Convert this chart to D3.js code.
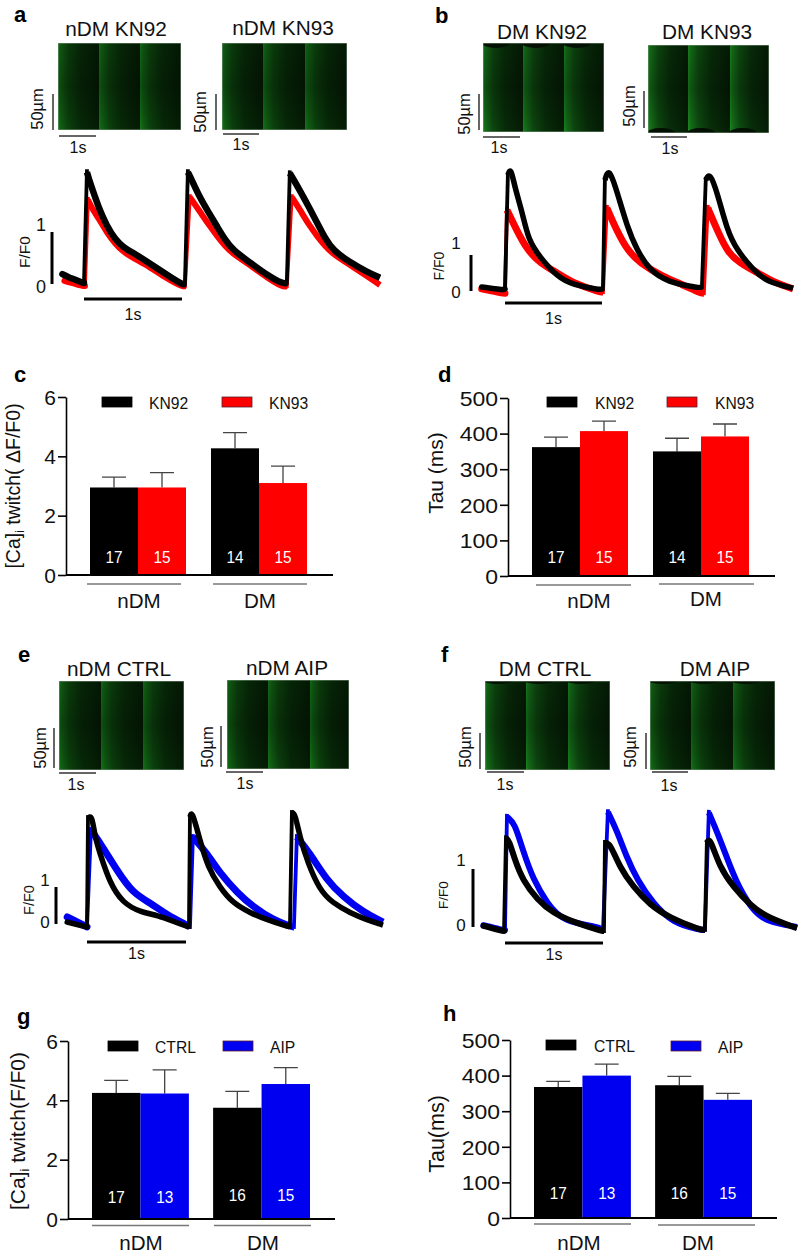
<!DOCTYPE html>
<html><head><meta charset="utf-8">
<style>html,body{margin:0;padding:0;background:#fff}svg{display:block}text{font-family:"Liberation Sans",Arial,sans-serif;fill:#111}</style>
<script src="https://cdn.jsdelivr.net/npm/d3@7"></script></head><body>
<script>
const groups = ["nDM","DM"];
const kn = ["KN92","KN93"], ctl = ["CTRL","AIP"];
const cMean=[2.95,2.95,4.27,3.1], cTop=[3.3,3.45,4.8,3.67], cN=[17,15,14,15];
const dMean=[362,407,350,392], dTop=[390,435,387,427], dN=[17,15,14,15];
const gMean=[4.25,4.23,3.75,4.55], gTop=[4.67,5.03,4.3,5.1], gN=[17,13,16,15];
const hMean=[368,400,373,332], hTop=[384,432,398,350], hN=[17,13,16,15];
const ticksRatio=[0,2,4,6], ticksTau=[0,100,200,300,400,500];

const aBlack=[[-.22,.19],[-.16,.13],[-.08,.08],[-.01,.02],[0,.02],[.03,2.15],[.06,1.96],[.11,1.69],[.16,1.42],[.23,1.13],[.32,.85],[.40,.71],[.50,.60],[.67,.40],[.85,.17],[1.01,-.02],[1.03,0],[1.06,2.15],[1.10,2.0],[1.18,1.67],[1.27,1.38],[1.36,1.10],[1.44,.85],[1.52,.65],[1.69,.42],[1.87,.17],[2.03,0],[2.07,.02],[2.10,2.13],[2.20,1.81],[2.29,1.5],[2.38,1.17],[2.46,.88],[2.54,.65],[2.71,.42],[2.89,.23],[3.02,.12]];
const aRed=[[-.2,.06],[-.12,.02],[-.01,-.04],[.01,-.04],[.04,1.62],[.08,1.46],[.16,1.23],[.23,1.0],[.32,.77],[.40,.62],[.5,.5],[.67,.33],[.85,.1],[1.01,-.06],[1.03,-.04],[1.08,1.67],[1.18,1.40],[1.27,1.15],[1.36,.92],[1.44,.73],[1.52,.58],[1.69,.37],[1.87,.12],[2.03,-.06],[2.07,-.04],[2.12,1.67],[2.2,1.44],[2.29,1.15],[2.38,.92],[2.46,.73],[2.54,.58],[2.71,.37],[2.89,.15],[3.02,-.02]];
const bBlack=[[-.24,.11],[-.10,.06],[-.02,.03],[0,.06],[.03,3.22],[.06,3.44],[.10,2.89],[.18,2.17],[.24,1.42],[.36,.94],[.54,.39],[.70,.17],[.98,.03],[1.01,.06],[1.03,3.08],[1.07,3.44],[1.15,2.81],[1.26,1.78],[1.36,1.14],[1.49,.58],[1.67,.25],[2.01,.08],[2.03,.11],[2.07,3.08],[2.11,3.31],[2.19,2.72],[2.29,1.69],[2.39,1.14],[2.56,.58],[2.70,.25],[2.97,.08]];
const bRed=[[-.24,.06],[-.02,-.06],[0,-.06],[.02,2.25],[.12,1.69],[.23,1.14],[.36,.78],[.54,.5],[.70,.22],[.98,-.03],[1.01,-.03],[1.05,2.31],[1.15,1.69],[1.26,1.14],[1.39,.78],[1.63,.39],[1.84,.17],[2.01,-.06],[2.05,-.06],[2.09,2.31],[2.20,1.61],[2.30,1.06],[2.42,.78],[2.56,.58],[2.76,.25],[2.97,.06]];
const eBlack=[[-.20,.05],[0,-.08],[.01,2.86],[.05,2.95],[.08,2.35],[.13,1.92],[.23,1.11],[.36,.57],[.54,.32],[.71,.24],[.91,.03],[1.03,-.08],[1.04,2.89],[1.06,3.08],[1.14,2.27],[1.22,1.54],[1.34,1.0],[1.47,.57],[1.65,.30],[1.82,.11],[2.05,-.08],[2.07,3.0],[2.10,3.0],[2.15,2.35],[2.23,1.65],[2.35,.92],[2.48,.57],[2.66,.30],[2.83,.11],[2.99,-.03]];
const eBlue=[[-.20,.19],[0,-.08],[.04,2.54],[.16,2.08],[.30,1.46],[.46,.84],[.64,.57],[.81,.24],[1.01,-.03],[1.04,-.08],[1.07,2.35],[1.21,1.92],[1.34,1.38],[1.52,.84],[1.68,.46],[1.88,.11],[2.07,-.08],[2.09,-.08],[2.12,2.35],[2.25,1.92],[2.42,1.19],[2.59,.73],[2.79,.32],[2.99,.05]];
const fBlack=[[-.22,.02],[-.03,-.07],[-.01,-.07],[.01,1.53],[.04,1.50],[.10,1.16],[.18,.81],[.33,.47],[.49,.24],[.69,.09],[.99,-.07],[1.01,-.07],[1.02,1.45],[1.07,1.45],[1.17,1.03],[1.31,.69],[1.48,.38],[1.68,.16],[1.99,-.05],[2.04,-.05],[2.06,1.45],[2.09,1.55],[2.19,1.03],[2.33,.69],[2.50,.38],[2.67,.17],[2.98,-.02]];
const fBlue=[[-.22,.03],[-.03,-.05],[0,-.05],[.02,1.90],[.10,1.79],[.18,1.33],[.29,.81],[.43,.41],[.59,.09],[.97,0],[1.0,-.05],[1.05,1.98],[1.14,1.67],[1.24,1.21],[1.35,.81],[1.51,.41],[1.71,.07],[1.99,-.05],[2.04,-.05],[2.08,1.97],[2.17,1.62],[2.30,1.03],[2.40,.64],[2.53,.29],[2.67,.09],[2.98,0]];

const svg=d3.select("body").append("svg").attr("width",799).attr("height",1258).attr("viewBox","0 0 799 1258");
const defs=svg.append("defs");
function T(x,y,s,o={}){
  const {size=15,anchor="middle",weight="normal",rot=0,sx=1,fill="#111"}=o;
  return svg.append("text").attr("transform",`translate(${x},${y}) rotate(${rot}) scale(${sx},1)`)
   .attr("text-anchor",anchor).attr("font-size",size).attr("font-weight",weight).style("fill",fill).text(s);
}
const RED="#fe0000",BLUE="#0000f0",BLK="#000";
[["a",14,22],["b",435,23],["c",14,382],["d",438,382],["e",18,662],["f",441,662],["g",17,1024],["h",443,1021]]
 .forEach(d=>T(d[1],d[2],d[0],{size:22,weight:"bold",anchor:"start",fill:"#000"}));

// fluorescence line-scan images
let gid=0;
function scan(o){
  const {x0,x1,y0,y1,beats,peak="#16801a",arc=null,arcD=5}=o;
  const id="g"+(gid++);
  const g=defs.append("linearGradient").attr("id",id);
  [[0,.92],[.06,.72],[.25,.42],[.55,.2],[1,.06]].forEach(s=>g.append("stop").attr("offset",s[0]).attr("stop-color",peak).attr("stop-opacity",s[1]));
  const cid="c"+id;
  defs.append("clipPath").attr("id",cid).append("rect").attr("x",x0).attr("y",y0).attr("width",x1-x0).attr("height",y1-y0);
  const G=svg.append("g").attr("clip-path",`url(#${cid})`);
  G.append("rect").attr("x",x0).attr("y",y0).attr("width",x1-x0).attr("height",y1-y0).attr("fill","#031403");
  const edges=beats.concat([x1]);
  beats.forEach((b,i)=>G.append("rect").attr("x",b).attr("y",y0).attr("width",edges[i+1]-b).attr("height",y1-y0).attr("fill",`url(#${id})`));
  const v="v"+id;
  const vg=defs.append("linearGradient").attr("id",v).attr("x1",0).attr("x2",0).attr("y1",0).attr("y2",1);
  [[0,.12],[.5,.28],[.82,.12],[1,0]].forEach(s=>vg.append("stop").attr("offset",s[0]).attr("stop-color","#000").attr("stop-opacity",s[1]));
  G.append("rect").attr("x",x0).attr("y",y0).attr("width",x1-x0).attr("height",y1-y0).attr("fill",`url(#${v})`);
  if(arc) beats.forEach(b=>G.append("ellipse").attr("cx",b+13).attr("cy",arc==="top"?y0:y1).attr("rx",14).attr("ry",arcD).attr("fill","#051005"));
  G.append("rect").attr("x",x0+.25).attr("y",y0+.25).attr("width",x1-x0-.5).attr("height",y1-y0-.5).attr("fill","none").attr("stroke","#7a957a").attr("stroke-width",.5);
}
function sb(x1,y1,x2,y2){svg.append("line").attr("x1",x1).attr("y1",y1).attr("x2",x2).attr("y2",y2).attr("stroke","#333").attr("stroke-width",1.5);}
function scale(vx,vy0,vy1,hx0,hx1,hy,lx,ly,sx0,sy){sb(vx,vy0,vx,vy1);sb(hx0,hy,hx1,hy);T(lx,ly,"50µm",{size:16.5,rot:-90});T(sx0,sy,"1s",{size:16});}

const titles=[["nDM KN92",116,36],["nDM KN93",283,35],["DM KN92",542,39],["DM KN93",707,39],["nDM CTRL",119,676],["nDM AIP",287,675],["DM CTRL",545,676],["DM AIP",715,676]];
titles.forEach(t=>T(t[1],t[2],t[0],{size:20,sx:1.04}));
scan({x0:58,x1:181,y0:43,y1:130,beats:[58,99,140]});
scan({x0:222,x1:347,y0:43,y1:130,beats:[222,263,305]});
scan({x0:483,x1:604,y0:43,y1:132,beats:[483,523,564],peak:"#1a8f20",arc:"top"});
scan({x0:648,x1:769,y0:45,y1:133,beats:[648,688,730],peak:"#1c9a22",arc:"bottom"});
scan({x0:59,x1:184,y0:681,y1:770,beats:[59,101,143]});
scan({x0:227,x1:349,y0:680,y1:769,beats:[227,268,310]});
scan({x0:485,x1:610,y0:681,y1:770,beats:[485,526,568],peak:"#1a8f20",arc:"top",arcD:3});
scan({x0:650,x1:775,y0:681,y1:770,beats:[650,691,733],arc:"top",arcD:3});
scale(53,94,130,59,96,136,43,109,78,153);
scale(216,94,130,223,259,134,206,112,241,150);
scale(479,94,130,483,520,137,470,114,499,153);
scale(644,91,128,651,687,137,635,106,670,154);
scale(54,728,768,59,96,773,46,748,76,790);
scale(221,726,767,226,263,772,213,747,245,789);
scale(480,733,769,487,524,772,471,747,505,790);
scale(646,733,769,652,688,772,636,747,669,791);

// transient traces: a thin line for the whole record, a thick pen for each decay
function decays(s){
  const out=[[]];
  s.forEach((p,i)=>{out[out.length-1].push(p); if(i<s.length-1 && s[i+1][1]-p[1]>.4) out.push([]);});
  return out;
}
function trace(o){
  const x=d3.scaleLinear().domain([0,1]).range([o.x0,o.x1]);
  const y=d3.scaleLinear().domain([0,1]).range([o.y0,o.y1]);
  const line=d3.line().x(d=>x(d[0])).y(d=>y(d[1])).curve(d3.curveBasis);
  const G=svg.append("g").attr("fill","none");
  [[o.under,o.color,o.wu],[o.over,"#000",o.wo]].forEach(([s,c,w])=>{
    const pieces=decays(s);
    pieces.forEach((p,i)=>{
      G.append("path").attr("d",line(p)).attr("stroke",c).attr("stroke-width",w).attr("stroke-linecap",i?"butt":"round");
      if(i){const a=pieces[i-1].slice(-1)[0];
        G.append("line").attr("x1",x(a[0])).attr("y1",y(a[1])).attr("x2",x(p[0][0])).attr("y2",y(p[0][1])-1).attr("stroke",c).attr("stroke-width",3.8).attr("stroke-linecap","square");}
    });
  });
  svg.append("line").attr("x1",o.sbx).attr("x2",o.sbx).attr("y1",o.y0).attr("y2",o.y1).attr("stroke","#000").attr("stroke-width",3);
  svg.append("line").attr("x1",x(0)).attr("x2",x(1)).attr("y1",o.ty).attr("y2",o.ty).attr("stroke","#000").attr("stroke-width",3);
  T((x(0)+x(1))/2,o.ty+(o.sg||21),"1s",{size:16});
  T(o.ffx,o.ffy,"F/F0",{size:o.ffs,rot:-90});
  T(o.nx,o.n1,"1",{size:o.ns});T(o.nx,o.n0,"0",{size:o.ns});
}
trace({over:aBlack,under:aRed,color:RED,wo:6.5,wu:6,x0:84,x1:182,y0:284,y1:232,sbx:52,ty:299,ffx:30,ffy:252,ffs:15.5,nx:41,n1:231,n0:293,ns:18});
trace({over:bBlack,under:bRed,color:RED,wo:5.5,wu:7,x0:505,x1:602,y0:291,y1:255,sbx:471,ty:303,ffx:444,ffy:266,ffs:14,nx:456,n1:249,n0:298,ns:17});
trace({over:eBlack,under:eBlue,color:BLUE,wo:5.5,wu:7,x0:87,x1:186,y0:924,y1:887,sbx:56,ty:942,sg:17,ffx:34,ffy:900,ffs:14.5,nx:45,n1:886,n0:928,ns:17});
trace({over:fBlack,under:fBlue,color:BLUE,wo:6,wu:6,x0:505,x1:603,y0:927,y1:869,sbx:473,ty:943,sg:17,ffx:448,ffy:895,ffs:13.5,nx:461,n1:866,n0:931,ns:17});

// bar charts
function bars(o){
  const G=svg.append("g");
  const y=d3.scaleLinear().domain(o.domain).range([o.y0,o.y1]);
  const outer=d3.scaleBand().domain(groups).range([o.bx0,o.bx1]).paddingInner(o.pad).paddingOuter(0);
  const inner=d3.scaleBand().domain(o.series).range([0,outer.bandwidth()]);
  const rows=[];
  groups.forEach((g,i)=>o.series.forEach((s,j)=>{const k=i*2+j;rows.push({g,s,j,m:o.mean[k],t:o.top[k],n:o.n[k]});}));
  const x=d=>outer(d.g)+inner(d.s), w=inner.bandwidth();
  const cols=[BLK,o.color];
  G.selectAll(".eb").data(rows).enter().append("path").attr("fill","none").attr("stroke","#444").attr("stroke-width",1.3)
   .attr("d",d=>{const c=x(d)+w/2;return `M${c},${y(d.m)}V${y(d.t)}M${c-12},${y(d.t)}H${c+12}`;});
  G.selectAll(".bar").data(rows).enter().append("rect").attr("x",x).attr("width",w).attr("y",d=>y(d.m)).attr("height",d=>y(0)-y(d.m)).attr("fill",d=>cols[d.j]);
  rows.forEach((d,i)=>T(x(d)+w/2,o.ny[i],d.n,{size:16,sx:.96,fill:"#fff"}));
  const ax=d3.axisLeft(y).tickValues(o.ticks).tickSize(8).tickSizeOuter(0).tickFormat(d3.format("d"));
  const A=G.append("g").attr("transform",`translate(${o.ax},0)`).call(ax);
  A.selectAll("path,line").attr("stroke","#000").attr("stroke-width",1.6);
  A.selectAll("text").attr("font-size",o.tsize).attr("x",-10/o.tsx).attr("dy",".36em").attr("transform",`scale(${o.tsx},1)`).style("fill","#111");
  G.append("line").attr("x1",o.ax).attr("x2",o.axEnd).attr("y1",y(0)).attr("y2",y(0)).attr("stroke","#000").attr("stroke-width",1.8);
  o.under.forEach((u,i)=>{G.append("line").attr("x1",u[0]).attr("x2",u[1]).attr("y1",u[2]).attr("y2",u[2]).attr("stroke","#777").attr("stroke-width",1.6);
    T(o.gl[i][0],o.gl[i][1],groups[i],{size:20,sx:1.03});});
  o.legend.forEach((l,i)=>{G.append("rect").attr("x",l[0]).attr("y",l[1]).attr("width",30).attr("height",10).attr("fill",cols[i]).attr("stroke",i?"#5a2030":"#000").attr("stroke-width",.8);
    T(l[2],l[3],o.series[i],{size:16,anchor:"start",sx:.98});});
}
bars({domain:[0,6],y0:575,y1:397,bx0:90,bx1:307,pad:.2066,series:kn,color:RED,mean:cMean,top:cTop,n:cN,ny:[563,563,563,563],ticks:ticksRatio,ax:66,axEnd:333,tsize:20,tsx:1.05,
 under:[[87,181,584],[213,307,584]],gl:[[139,608],[260,608]],legend:[[102,397,149,409],[222,397,269,409]]});
bars({domain:[0,500],y0:576,y1:398,bx0:532,bx1:749,pad:.2066,series:kn,color:RED,mean:dMean,top:dTop,n:dN,ny:[563,563,563,563],ticks:ticksTau,ax:508,axEnd:775,tsize:20,tsx:1.15,
 under:[[536,631,585],[659,754,584]],gl:[[589,608],[706,606]],legend:[[547,397,595,409],[667,397,715,409]]});
bars({domain:[0,6],y0:1219,y1:1041,bx0:92,bx1:310,pad:.2,series:ctl,color:BLUE,mean:gMean,top:gTop,n:gN,ny:[1203,1203,1201,1201],ticks:ticksRatio,ax:68,axEnd:335,tsize:20,tsx:1.05,
 under:[[92,189,1225.5],[214,311,1225.5]],gl:[[141,1250],[263,1250]],legend:[[108,1041,155,1053],[223,1041,270,1053]]});
bars({domain:[0,500],y0:1218,y1:1040,bx0:534,bx1:752,pad:.2,series:ctl,color:BLUE,mean:hMean,top:hTop,n:hN,ny:[1199,1199,1199,1199],ticks:ticksTau,ax:510,axEnd:777,tsize:20,tsx:1.15,
 under:[[534,631,1224],[658,755,1225]],gl:[[579,1250],[698,1250]],legend:[[546,1040,594,1052],[671,1041,718,1053]]});

function caLabel(x,y,tail,size){
  const t=svg.append("text").attr("transform",`translate(${x},${y}) rotate(-90)`).attr("text-anchor","middle").attr("font-size",size);
  t.append("tspan").text("[Ca]");
  t.append("tspan").attr("font-size",size*.62).attr("dy",4).text("i");
  t.append("tspan").attr("dy",-4).text(" "+tail);
}
caLabel(20,486,"twitch( ΔF/F0)",19.5);
caLabel(25,1131,"twitch(F/F0)",21);
T(443,473,"Tau (ms)",{size:21,rot:-90});
T(444,1134,"Tau(ms)",{size:21.5,rot:-90});
</script></body></html>
